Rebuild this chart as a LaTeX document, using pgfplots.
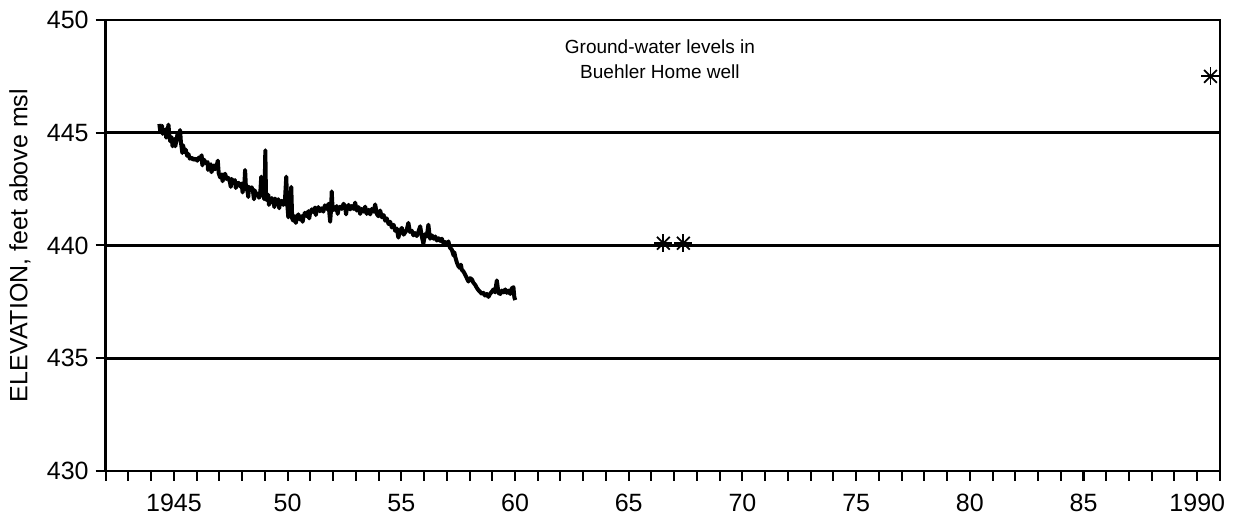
\documentclass[border=0pt]{standalone}
\usepackage{fontspec}
\setmainfont{Liberation Sans}
\usepackage{pgfplots}
\pgfplotsset{compat=1.18}
\begin{document}
\begin{tikzpicture}
\begin{axis}[
 name=ax,
 scale only axis,
 width=557.2pt, height=225.5pt,
 xmin=1942, xmax=1991, ymin=430, ymax=450,
 xtick={1945,1950,...,1990},
 xticklabels={1945,50,55,60,65,70,75,80,85,1990},
 minor xtick={1942,...,1991},
 ytick={430,435,...,450},
 tick align=outside,
 xtick pos=left, ytick pos=left,
 major tick length=5pt, minor tick length=5pt,
 tick style={black, line width=1pt},
 axis line style={line width=1.2pt},
 ymajorgrids, grid style={black, line width=1.4pt},
 /pgf/number format/assume math mode=true,
 ticklabel style={font=\fontsize{12.5}{14}\selectfont},
 xticklabel style={yshift=-3pt},
 ylabel={ELEVATION, feet above msl},
 ylabel style={font=\fontsize{12.5}{14}\selectfont, at={(axis description cs:-0.0769,0.5)}, anchor=center},
]
\addplot[black, line width=2pt, line join=round] coordinates {
(1944.36,445.39) (1944.40,445.05) (1944.42,445.25) (1944.48,445.30) (1944.50,444.95) (1944.52,445.10) (1944.58,444.95)
(1944.63,445.15) (1944.66,444.78) (1944.70,444.90) (1944.76,445.36) (1944.80,444.85) (1944.84,444.62)
(1944.90,444.80) (1944.94,444.40) (1944.97,444.50) (1945.03,444.72) (1945.06,444.40) (1945.10,444.60) (1945.16,444.95)
(1945.22,444.70) (1945.27,445.12) (1945.31,444.55) (1945.34,444.35) (1945.37,444.10) (1945.40,444.45)
(1945.46,444.15) (1945.52,444.25) (1945.58,443.98) (1945.64,444.05) (1945.70,443.85)
(1945.78,443.90) (1945.85,443.80) (1945.95,443.85) (1946.03,443.76) (1946.10,443.90)
(1946.16,443.82) (1946.22,444.00) (1946.25,443.55) (1946.27,443.70) (1946.33,443.80) (1946.40,443.65)
(1946.48,443.70) (1946.50,443.35) (1946.55,443.50) (1946.62,443.60) (1946.65,443.25) (1946.70,443.40) (1946.76,443.55)
(1946.81,443.38) (1946.87,443.50) (1946.93,443.76) (1946.97,443.20) (1947.03,443.02)
(1947.10,443.15) (1947.14,442.85) (1947.18,443.05) (1947.25,443.18) (1947.32,442.95) (1947.39,443.00)
(1947.46,442.82) (1947.50,442.60) (1947.54,442.95) (1947.61,442.80) (1947.68,442.90) (1947.72,442.55) (1947.76,442.72)
(1947.84,442.78) (1947.91,442.62) (1947.98,442.75) (1948.02,442.35) (1948.05,442.60) (1948.10,442.72)
(1948.13,443.35) (1948.17,442.50) (1948.23,442.45) (1948.27,442.15) (1948.30,442.60) (1948.36,442.48)
(1948.42,442.58) (1948.48,442.38) (1948.52,442.05) (1948.55,442.45) (1948.62,442.22) (1948.68,442.30)
(1948.74,442.12) (1948.79,442.20) (1948.84,443.05) (1948.88,442.30) (1948.93,442.85)
(1948.97,442.05) (1949.00,443.10) (1949.02,444.22) (1949.05,442.10) (1949.10,442.00)
(1949.15,442.25) (1949.18,441.80) (1949.22,441.98) (1949.30,442.10) (1949.37,441.95) (1949.42,441.70) (1949.45,442.08)
(1949.52,441.92) (1949.59,442.05) (1949.63,441.65) (1949.66,441.88) (1949.74,441.98) (1949.81,441.80)
(1949.88,441.95) (1949.94,443.05) (1949.98,441.90) (1950.03,441.25) (1950.10,441.60)
(1950.16,442.60) (1950.20,441.20) (1950.25,441.10) (1950.32,441.30) (1950.36,441.00) (1950.40,441.18)
(1950.47,441.38) (1950.55,441.15) (1950.62,441.30) (1950.66,441.05) (1950.69,441.22) (1950.76,441.45)
(1950.84,441.30) (1950.91,441.52) (1950.95,441.20) (1950.98,441.40) (1951.06,441.60) (1951.13,441.48)
(1951.20,441.68) (1951.24,441.35) (1951.28,441.55) (1951.35,441.70) (1951.42,441.52) (1951.50,441.65)
(1951.57,441.50) (1951.64,441.78) (1951.72,441.62) (1951.80,441.85) (1951.87,441.05)
(1951.91,441.60) (1951.94,442.40) (1951.98,441.55) (1952.04,441.70) (1952.09,441.58)
(1952.16,441.75) (1952.20,441.40) (1952.24,441.60) (1952.31,441.72) (1952.38,441.62) (1952.46,441.85)
(1952.53,441.70) (1952.57,441.38) (1952.60,441.62) (1952.68,441.80) (1952.75,441.60) (1952.82,441.75)
(1952.90,441.62) (1952.97,441.90) (1953.04,441.55) (1953.12,441.70) (1953.19,441.40)
(1953.26,441.62) (1953.34,441.50) (1953.41,441.72) (1953.48,441.40) (1953.56,441.58)
(1953.63,441.38) (1953.70,441.62) (1953.78,441.50) (1953.85,441.82) (1953.92,441.40)
(1953.99,441.30) (1954.07,441.55) (1954.14,441.25) (1954.22,441.35) (1954.29,441.10)
(1954.36,441.20) (1954.44,440.95) (1954.51,441.05) (1954.58,440.80) (1954.66,440.92)
(1954.73,440.65) (1954.80,440.75) (1954.87,440.35) (1954.94,440.62) (1955.02,440.78)
(1955.10,440.48) (1955.17,440.58) (1955.24,440.70) (1955.31,441.00) (1955.38,440.60)
(1955.46,440.65) (1955.53,440.45) (1955.60,440.55) (1955.68,440.42) (1955.75,440.60)
(1955.83,440.85) (1955.90,440.40) (1955.97,440.08) (1956.04,440.50) (1956.12,440.40)
(1956.19,440.92) (1956.23,440.55) (1956.27,440.30) (1956.34,440.45) (1956.42,440.30)
(1956.49,440.40) (1956.56,440.22) (1956.64,440.32) (1956.71,440.20) (1956.78,440.30)
(1956.86,440.08) (1956.93,440.15) (1957.00,440.05) (1957.07,440.18) (1957.14,439.90)
(1957.22,439.82) (1957.30,439.55) (1957.33,439.70) (1957.37,439.50) (1957.44,439.25) (1957.51,439.08)
(1957.58,439.00) (1957.62,439.15) (1957.66,438.92) (1957.73,438.85) (1957.81,438.70) (1957.88,438.55)
(1957.95,438.40) (1958.02,438.55) (1958.10,438.50) (1958.17,438.35) (1958.25,438.25)
(1958.32,438.12) (1958.39,438.02) (1958.46,437.95) (1958.54,437.85) (1958.61,437.90)
(1958.68,437.78) (1958.76,437.85) (1958.83,437.72) (1958.90,437.85) (1958.98,437.95)
(1959.05,438.05) (1959.12,437.92) (1959.20,438.45) (1959.27,437.90) (1959.35,437.85)
(1959.42,438.00) (1959.50,437.92) (1959.57,438.05) (1959.64,437.90) (1959.72,438.00)
(1959.79,437.85) (1959.86,438.10) (1959.93,438.15) (1959.97,437.70) (1960.01,437.58)
};
\addplot[only marks, mark=+, mark size=4.5pt, black, line width=0.9pt]
 coordinates {(1966.52,440.1) (1967.40,440.1) (1990.58,447.5)};
\addplot[only marks, mark=x, mark size=4.5pt, black, line width=0.9pt]
 coordinates {(1966.52,440.1) (1967.40,440.1) (1990.58,447.5)};
\node[align=center, font=\fontsize{9.5}{12.5}\selectfont] at (rel axis cs:0.4974,0.9124)
 {Ground-water levels in\\Buehler Home well};
\end{axis}
\pgfresetboundingbox
\path ([shift={(-52.85pt,-25.5pt)}]ax.south west) rectangle ([shift={(6.5pt,10pt)}]ax.north east);
\end{tikzpicture}
\end{document}
